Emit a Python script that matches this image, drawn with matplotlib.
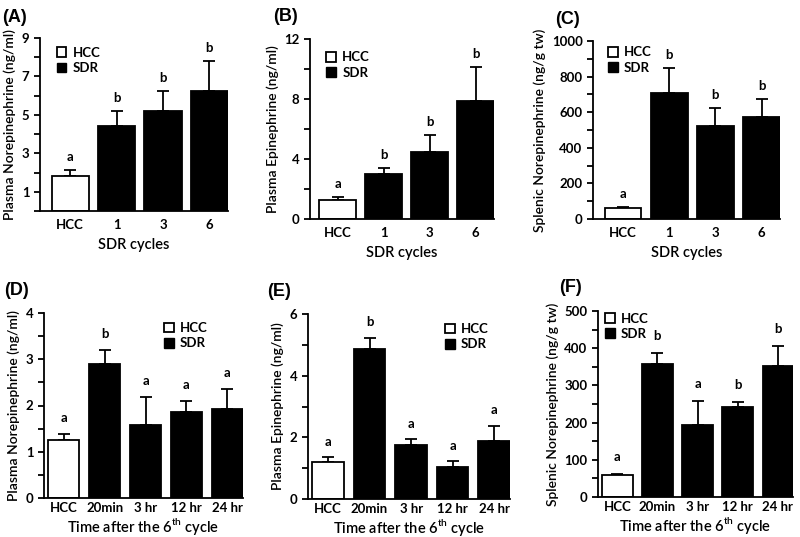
import matplotlib.pyplot as plt
from matplotlib.patches import Patch
from matplotlib.ticker import MultipleLocator

plt.rcParams['font.family'] = ['Lato', 'DejaVu Sans']
plt.rcParams['mathtext.fontset'] = 'custom'
plt.rcParams['mathtext.rm'] = 'Lato:semibold'

# top row: SDR cycles
cycle_labels = ['HCC', '1', '3', '6']
a_means = [1.8, 4.4, 5.2, 6.25]
a_errs = [0.35, 0.8, 1.05, 1.55]
a_letters = ['a', 'b', 'b', 'b']

b_means = [1.3, 3.0, 4.5, 7.85]
b_errs = [0.15, 0.4, 1.1, 2.3]
b_letters = ['a', 'b', 'b', 'b']

c_means = [60, 710, 525, 572]
c_errs = [5, 140, 100, 100]
c_letters = ['a', 'b', 'b', 'b']

# bottom row: time after the 6th cycle
time_labels = ['HCC', '20min', '3 hr', '12 hr', '24 hr']
d_means = [1.25, 2.9, 1.58, 1.87, 1.92]
d_errs = [0.13, 0.3, 0.6, 0.23, 0.44]
d_letters = ['a', 'b', 'a', 'a', 'a']

e_means = [1.2, 4.85, 1.75, 1.05, 1.87]
e_errs = [0.15, 0.37, 0.18, 0.17, 0.5]
e_letters = ['a', 'b', 'a', 'a', 'a']

f_means = [58, 357, 194, 242, 353]
f_errs = [3, 30, 65, 13, 52]
f_letters = ['a', 'b', 'a', 'b', 'b']

W, H = 800, 537
fig = plt.figure(figsize=(8, 5.37), dpi=100)


def px_axes(left, right, top, bottom):
    return fig.add_axes([left / W, 1 - bottom / H, (right - left) / W, (bottom - top) / H])


def panel(ax, labels, means, errs, letters, ylim, major, minor, ylabel, xlabel,
          tag, legend_loc, legend_anchor, width, xpad, letter_off, tick_pad, xlabel_pad):
    x = list(range(len(labels)))
    colors = ['white'] + ['black'] * (len(labels) - 1)
    ax.bar(x, means, width=width, color=colors, edgecolor='black', linewidth=1.3, zorder=2)
    ax.errorbar(x, means, yerr=[[0] * len(errs), errs], fmt='none', ecolor='black',
                elinewidth=1.3, capsize=4, capthick=1.3, zorder=1)
    for xi, m, e, lt in zip(x, means, errs, letters):
        ax.annotate(lt, (xi, m + e), xytext=(0, letter_off), textcoords='offset points',
                    ha='center', va='bottom', fontsize=9.5, fontweight='bold')
    ax.set_ylim(*ylim)
    ax.set_xlim(-width / 2 - xpad, len(labels) - 1 + width / 2)
    ax.yaxis.set_major_locator(MultipleLocator(major))
    ax.yaxis.set_minor_locator(MultipleLocator(minor))
    ax.set_xticks(x)
    ax.set_xticklabels(labels)
    for s in ['top', 'right']:
        ax.spines[s].set_visible(False)
    for s in ['left', 'bottom']:
        ax.spines[s].set_linewidth(1.3)
    ax.tick_params(axis='y', which='major', length=4, width=1.3, labelsize=9.5)
    ax.tick_params(axis='y', which='minor', length=4, width=1.3)
    ax.tick_params(axis='x', length=0, labelsize=9.5, pad=tick_pad)
    for t in ax.get_xticklabels() + ax.get_yticklabels():
        t.set_fontweight('bold')
    ax.set_ylabel(ylabel, fontsize=10, fontweight='semibold', labelpad=4)
    ax.set_xlabel(xlabel, fontsize=10.5, fontweight='semibold', labelpad=xlabel_pad)
    handles = [Patch(facecolor='white', edgecolor='black', linewidth=1.3),
               Patch(facecolor='black', edgecolor='black')]
    ax.legend(handles, ['HCC', 'SDR'], loc=legend_loc, bbox_to_anchor=legend_anchor,
              frameon=False, handlelength=0.75, handleheight=0.75, handletextpad=0.45,
              labelspacing=0.25, borderaxespad=0,
              prop={'weight': 'bold', 'size': 9.5})
    ax.text(-0.2, 1.17, tag, transform=ax.transAxes, fontsize=13, fontweight='bold',
            family='Liberation Sans', va='top', ha='left')


time_xlabel = r'Time after the 6$^{\mathrm{th}}$ cycle'

axA = px_axes(40, 228, 38, 211)
panel(axA, cycle_labels, a_means, a_errs, a_letters, (0, 9), 2, 1,
      'Plasma Norepinephrine (ng/ml)', 'SDR cycles', '(A)', 'upper left',
      (0.06, 0.98), 0.8, 0.25, 5, 6, 5)
axA.set_yticks([1, 3, 5, 7, 9])

axB = px_axes(310, 494, 39, 219)
panel(axB, cycle_labels, b_means, b_errs, b_letters, (0, 12), 4, 2,
      'Plasma Epinephrine (ng/ml)', 'SDR cycles', '(B)', 'upper left',
      (0.06, 0.96), 0.8, 0.2, 5, 6, 5)

axC = px_axes(593, 780, 41, 219)
panel(axC, cycle_labels, c_means, c_errs, c_letters, (0, 1000), 200, 100,
      'Splenic Norepinephrine (ng/g tw)', 'SDR cycles', '(C)', 'upper left',
      (0.05, 1.0), 0.8, 0.25, 5, 6, 5)

axD = px_axes(44, 243, 313, 498)
panel(axD, time_labels, d_means, d_errs, d_letters, (0, 4), 1, 0.5,
      'Plasma Norepinephrine (ng/ml)', time_xlabel, '(D)', 'upper right',
      (0.85, 0.98), 0.76, 0.1, 7, 3, 1)

axE = px_axes(308, 510, 314, 499)
panel(axE, time_labels, e_means, e_errs, e_letters, (0, 6), 2, 1,
      'Plasma Epinephrine (ng/ml)', time_xlabel, '(E)', 'upper right',
      (0.92, 0.98), 0.76, 0.1, 7, 3, 1)

axF = px_axes(598, 793, 311, 497)
panel(axF, time_labels, f_means, f_errs, f_letters, (0, 500), 100, 50,
      'Splenic Norepinephrine (ng/g tw)', time_xlabel, '(F)', 'upper left',
      (0.01, 1.02), 0.76, 0.1, 8, 3, 1)

fig.savefig('out.png', dpi=100)
